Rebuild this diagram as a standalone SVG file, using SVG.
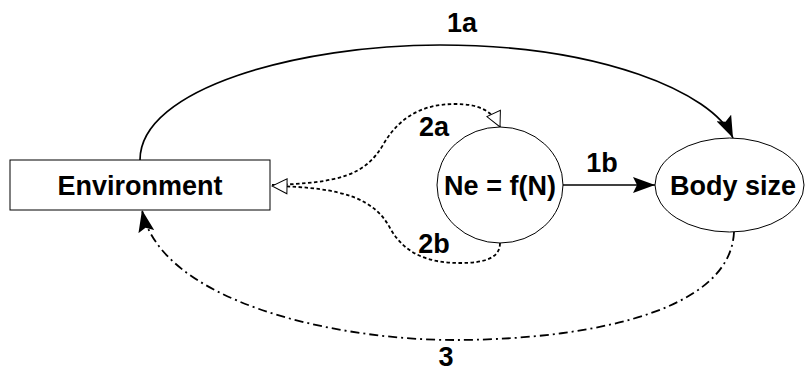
<svg xmlns="http://www.w3.org/2000/svg" width="805" height="371" viewBox="0 0 805 371">
<style>
.lbl{font-family:"Liberation Sans",Arial,sans-serif;font-weight:bold;font-size:27px;fill:#000;text-anchor:middle}
.node{fill:#fff;stroke:#000;stroke-width:1}
.c{fill:none;stroke:#000}
.solid{stroke-width:1.7}
.dot{stroke-width:1.8;stroke-dasharray:3.5 2.5}
.dd{stroke-width:1.8;stroke-dasharray:9 4 2 4}
</style>
<defs>
<marker id="arr" viewBox="0 0 22 16" refX="22" refY="8" markerWidth="22" markerHeight="16" orient="auto" markerUnits="userSpaceOnUse">
<path d="M0,0 L22,8 L0,16 L4,8 Z" fill="#000"/>
</marker>
<marker id="open" viewBox="-1 -1 17 17" refX="15" refY="7.5" markerWidth="17" markerHeight="17" orient="auto" markerUnits="userSpaceOnUse">
<path d="M0,0 L15,7.5 L0,15 Z" fill="#fff" stroke="#000" stroke-width="1"/>
</marker>
</defs>
<g id="connectors">
<path id="c1a" class="c solid" d="M140,160 C140,88 300,45 440,45 C600,45 712,92 733,138" marker-end="url(#arr)"/>
<path id="c1b" class="c solid" d="M563,185 L655,185" marker-end="url(#arr)"/>
<path id="c2a" class="c dot" d="M272,185 C340,183 365,175 383,145 C400,115 425,104 455,104 C478,104 492,110 500,127" marker-end="url(#open)"/>
<path id="c2b" class="c dot" d="M500,243 C500,258 485,263 460,263 C430,263 405,255 390,228 C375,200 345,187 272,186" marker-end="url(#open)"/>
<path id="c3" class="c dd" d="M734,232 C730,320 560,340 455,340 C330,340 160,300 142,210" marker-end="url(#arr)"/>
</g>
<g id="env">
<rect class="node" x="10" y="160" width="260" height="50" stroke="#333"/>
<text class="lbl" x="140" y="195">Environment</text>
</g>
<g id="ne">
<ellipse class="node" cx="500" cy="185" rx="63" ry="58"/>
<text class="lbl" x="500" y="195">Ne = f(N)</text>
</g>
<g id="body">
<ellipse class="node" cx="729.5" cy="185" rx="74.5" ry="47"/>
<text class="lbl" x="733" y="195">Body size</text>
</g>
<g id="labels">
<text class="lbl" x="462" y="32">1a</text>
<text class="lbl" x="602" y="172">1b</text>
<text class="lbl" x="434" y="136">2a</text>
<text class="lbl" x="434" y="253">2b</text>
<text class="lbl" x="446" y="366">3</text>
</g>
</svg>
